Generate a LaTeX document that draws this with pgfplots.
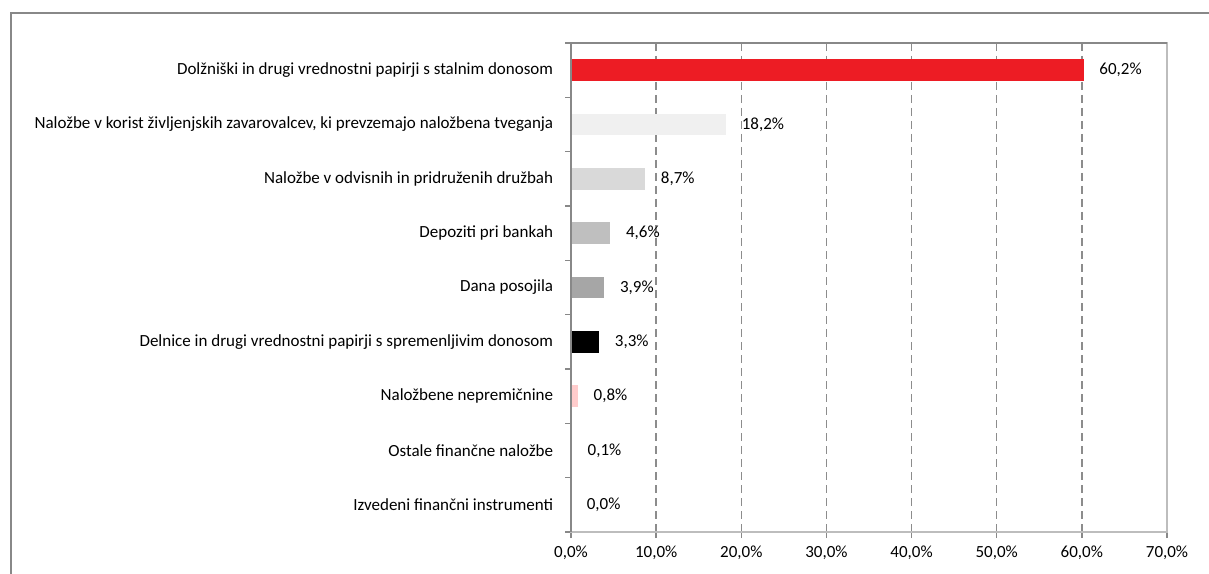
\documentclass[border=0pt]{standalone}
\usepackage{pgfplots}
\pgfplotsset{compat=1.18}
\usepackage{fontspec}
\setmainfont{Carlito}
\definecolor{barred}{HTML}{ED1C24}
\definecolor{axdark}{HTML}{888888}
\definecolor{axlight}{HTML}{BDBDBD}
\definecolor{griddash}{HTML}{8C8C8C}
\begin{document}
\fontsize{17bp}{20bp}\selectfont
\begin{tikzpicture}[x=1bp,y=1bp]
\useasboundingbox (0,0) rectangle (1209,574);
% outer frame of the sheet
\draw[axdark, line width=2bp] (10.5,-5) -- (10.5,561) -- (1215,561);
\begin{axis}[
  at={(571bp,42bp)}, anchor=south west,
  scale only axis, width=596bp, height=489bp,
  xbar, bar width=21.7bp, bar shift=0pt,
  xmin=0, xmax=70, xtick={0,10,...,70},
  ymin=-0.5, ymax=8.5, y dir=reverse,
  ytick={0,...,8},
  yticklabels={Dolžniški in drugi vrednostni papirji s stalnim donosom,
    {Naložbe v korist življenjskih zavarovalcev, ki prevzemajo naložbena tveganja},
    Naložbe v odvisnih in pridruženih družbah,
    Depoziti pri bankah,
    Dana posojila,
    Delnice in drugi vrednostni papirji s spremenljivim donosom,
    Naložbene nepremičnine,
    Ostale finančne naložbe,
    Izvedeni finančni instrumenti},
  minor ytick={-0.5,0.5,...,8.5},
  xtick pos=bottom, ytick pos=left,
  tick align=outside,
  y tick style={draw=none}, minor y tick style={draw=axdark, line width=1.3bp},
  minor tick length=6bp,
  x tick style={draw=axdark, line width=1.3bp}, major tick length=6bp,
  xticklabel={\pgfmathprintnumber[fixed,fixed zerofill,precision=1,use comma]{\tick}\%},
  xticklabel style={yshift=-2bp},
  yticklabel style={xshift=-6bp},
  /pgf/number format/assume math mode=true,
  xmajorgrids, major grid style={griddash, line width=1.4bp, dash pattern=on 8bp off 5bp},
  axis line style={axlight, line width=1.3bp},
  nodes near coords={\pgfmathprintnumber[fixed,fixed zerofill,precision=1,use comma]{\pgfplotspointmeta}\%},
  nodes near coords style={anchor=west, xshift=10bp, text=black},
  every axis plot/.append style={draw=none},
  clip=false,
]
\addplot[fill=barred] coordinates {(60.2,0)};
\addplot[fill={rgb,255:red,240;green,240;blue,240}] coordinates {(18.2,1)};
\addplot[fill={rgb,255:red,217;green,217;blue,217}] coordinates {(8.7,2)};
\addplot[fill={rgb,255:red,191;green,191;blue,191}] coordinates {(4.6,3)};
\addplot[fill={rgb,255:red,166;green,166;blue,166}] coordinates {(3.9,4)};
\addplot[fill=black] coordinates {(3.3,5)};
\addplot[fill={rgb,255:red,255;green,204;blue,204}] coordinates {(0.8,6)};
\addplot[fill={rgb,255:red,79;green,129;blue,189}] coordinates {(0.1,7)};
\addplot[fill=white] coordinates {(0.0,8)};
\draw[axdark, line width=1.5bp] (rel axis cs:0,0) -- (rel axis cs:0,1);
\draw[axdark, line width=1.5bp] (rel axis cs:-0.01,1) -- (rel axis cs:1,1);
\end{axis}
\end{tikzpicture}
\end{document}
